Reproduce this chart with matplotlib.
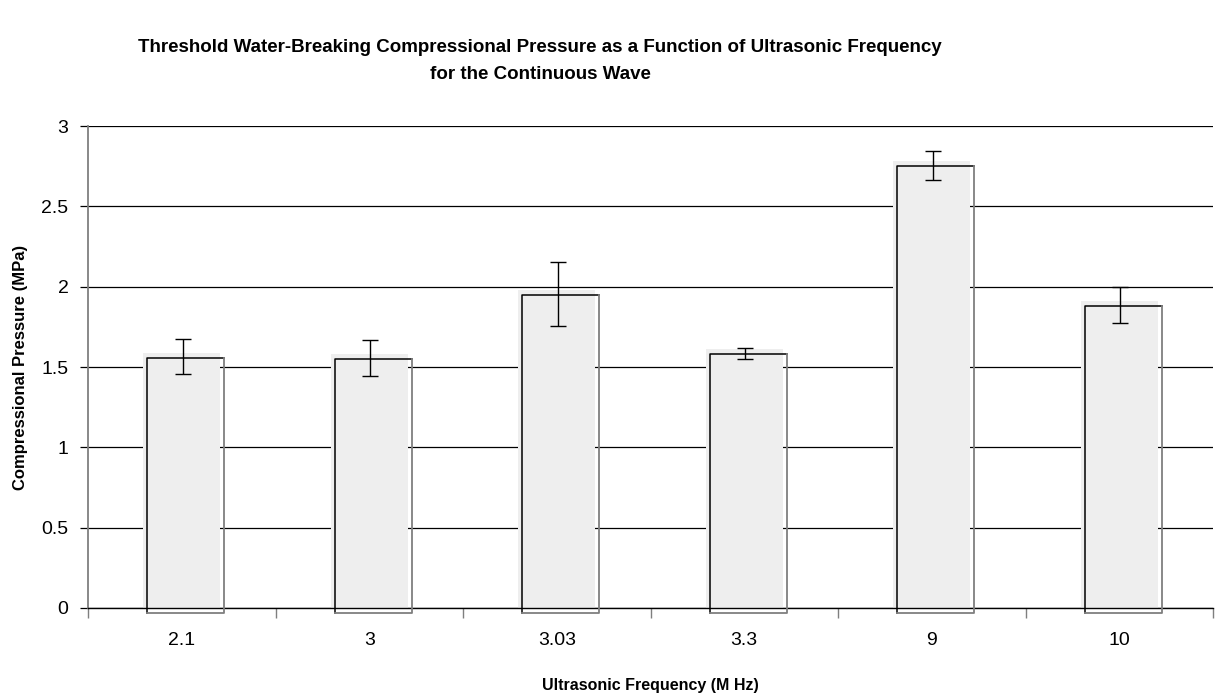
import matplotlib.pyplot as plt
import matplotlib.transforms as mtransforms
import numpy as np

plt.rcParams['font.family'] = ['Liberation Sans', 'DejaVu Sans']

freqs = ["2.1", "3", "3.03", "3.3", "9", "10"]
pressure = [1.59, 1.58, 1.98, 1.61, 2.78, 1.91]
errors = [0.11, 0.11, 0.20, 0.035, 0.09, 0.11]

fig = plt.figure(figsize=(12.15, 6.98), dpi=100)
ax = fig.add_axes([88 / 1215, 1 - 608 / 698, 1125 / 1215, 482 / 698])

x = np.arange(len(freqs)) + 0.5
width = 0.41

# grid behind the bars
ax.set_axisbelow(True)
ax.yaxis.grid(True, color='black', linewidth=0.9)

# light fill of each bar
ax.bar(x, pressure, width=width, color='#eeeeee', edgecolor='none', zorder=2)

# outline drawn slightly down-right of the fill
shift = mtransforms.ScaledTranslation(4 / 100, -5 / 100, fig.dpi_scale_trans)
tr = ax.transData + shift
for xi, h in zip(x, pressure):
    x0, x1 = xi - width / 2, xi + width / 2
    ax.plot([x0, x0, x1], [0, h, h], color='black', linewidth=1.1,
            transform=tr, zorder=3, clip_on=False)
    ax.plot([x1, x1, x0], [h, 0, 0], color='#7f7f7f', linewidth=1.3,
            transform=tr, zorder=3, clip_on=False)

err_tr = ax.transData + mtransforms.ScaledTranslation(1 / 100, -4 / 100, fig.dpi_scale_trans)
ax.errorbar(x, pressure, yerr=errors, fmt='none', ecolor='black',
            elinewidth=1.0, capsize=6, capthick=1.0, transform=err_tr,
            zorder=4)

ax.set_xlim(0, len(freqs))
ax.set_ylim(0, 3)
ax.set_yticks([0, 0.5, 1, 1.5, 2, 2.5, 3])
ax.set_yticklabels(['0', '0.5', '1', '1.5', '2', '2.5', '3'])

ax.set_xticks(np.arange(len(freqs) + 1))
ax.set_xticklabels([])
ax.set_xticks(x, minor=True)
ax.set_xticklabels(freqs, minor=True)
ax.tick_params(axis='x', which='major', direction='out', length=7,
               color='#7f7f7f', width=1)
ax.tick_params(axis='x', which='minor', length=0, pad=17, labelsize=14)
ax.tick_params(axis='y', direction='out', length=6, color='black',
               width=0.9, pad=8, labelsize=14)

for side in ['top', 'right']:
    ax.spines[side].set_visible(False)
ax.spines['left'].set_color('#7f7f7f')
ax.spines['left'].set_linewidth(1.3)
ax.spines['bottom'].set_color('black')
ax.spines['bottom'].set_linewidth(1.0)

ax.set_xlabel('Ultrasonic Frequency (M Hz)', fontsize=11.5, fontweight='bold',
              labelpad=21)
ax.set_ylabel('Compressional Pressure (MPa)', fontsize=12, fontweight='bold',
              labelpad=10)

fig.text(540 / 1215, 1 - 61 / 698,
         'Threshold Water-Breaking Compressional Pressure as a Function of Ultrasonic Frequency\nfor the Continuous Wave',
         ha='center', va='center', fontsize=13.5, fontweight='bold',
         linespacing=1.8)

fig.savefig('out.png', dpi=100)
